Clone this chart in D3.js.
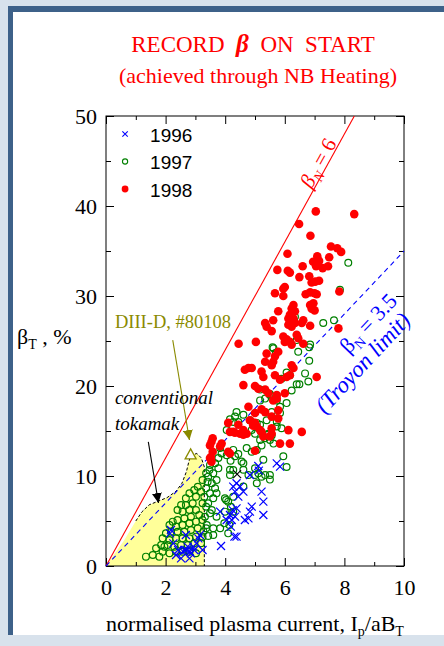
<!DOCTYPE html>
<html>
<head>
<meta charset="utf-8">
<script src="https://cdn.jsdelivr.net/npm/d3@7"></script>
<style>
    body { margin: 0; background: #d8e2ec; }
    svg { display: block; }
</style>
</head>
<body>
<svg id="chart" width="444" height="646"></svg>
<script>
// legend categories and ticks
const years = ["1996", "1997", "1998"];
const xTicks = [0, 2, 4, 6, 8, 10];
const xMinor = [1, 3, 5, 7, 9];
const yTicks = [0, 10, 20, 30, 40, 50];
const yMinor = [5, 15, 25, 35, 45];

// beta_N limit lines
const betaN = [6, 3.5];

// [I_p/aB_T, beta_T %]
const data1996 = [
    [2.18, 4.0], [2.15, 3.63], [2.26, 2.52], [2.42, 1.78], [2.59, 1.59], [2.70, 1.78], [2.82, 1.59],
    [2.93, 2.15], [3.04, 2.52], [3.10, 3.07], [3.15, 3.44], [2.68, 3.44], [2.74, 2.15], [2.63, 1.78],
    [2.85, 1.41], [2.35, 1.22], [2.52, 0.85], [2.80, 0.85], [2.96, 1.78], [3.24, 1.78], [3.86, 2.22],
    [4.38, 3.26], [4.19, 4.37], [4.31, 3.26], [4.05, 5.11], [4.22, 5.11], [4.33, 5.48], [4.16, 5.67],
    [4.66, 5.11], [4.78, 5.3], [4.83, 6.04], [4.89, 6.59], [5.28, 5.67], [5.28, 7.15], [5.22, 8.26],
    [4.38, 6.41], [3.83, 6.04], [4.25, 6.2], [4.27, 8.82], [4.5, 8.82], [4.33, 8.26], [4.61, 8.26],
    [4.44, 7.70], [4.38, 9.19], [4.83, 10.11], [5.11, 11.11], [5.73, 11.41], [5.84, 11.04], [5.13, 10.6]
];
const data1997 = [
    [3.24, 9.56], [3.08, 8.81], [3.19, 8.26], [2.96, 8.44], [2.80, 8.07], [3.02, 7.70], [2.68, 7.52],
    [3.24, 6.96], [2.91, 6.96], [2.68, 6.78], [2.52, 6.78], [2.40, 6.22], [2.57, 6.04], [2.80, 6.22],
    [3.02, 6.22], [3.13, 5.67], [2.85, 5.48], [2.63, 5.30], [2.40, 5.11], [2.24, 4.93], [2.13, 4.56],
    [2.35, 4.37], [2.57, 4.56], [2.80, 4.74], [3.02, 4.93], [3.24, 5.11], [3.08, 4.19], [2.85, 4.0],
    [2.63, 3.81], [2.40, 3.81], [2.18, 3.81], [2.01, 3.63], [1.90, 3.07], [2.13, 2.89], [2.35, 3.07],
    [2.57, 3.07], [2.80, 3.07], [3.02, 3.26], [3.24, 3.26], [3.19, 2.52], [2.96, 2.52], [2.74, 2.33],
    [2.52, 2.33], [2.29, 2.15], [2.07, 2.33], [1.85, 2.33], [1.68, 1.96], [1.90, 1.59], [2.13, 1.41],
    [2.35, 1.59], [2.57, 1.59], [2.80, 1.59], [3.02, 1.41], [1.79, 1.04], [1.57, 1.22], [1.34, 1.04],
    [1.96, 2.15], [3.30, 7.70], [3.36, 8.63], [3.36, 6.59], [3.36, 4.19], [3.36, 10.3], [3.47, 10.67],
    [3.41, 9.37],
    [3.49, 11.22], [3.66, 11.41], [3.77, 10.85], [3.60, 10.30], [3.43, 9.93], [3.71, 9.56], [3.55, 9.19],
    [3.66, 8.63], [3.49, 8.07], [3.71, 8.07], [3.60, 7.52], [3.43, 6.96], [3.55, 6.22], [3.32, 5.48],
    [3.49, 5.85], [3.71, 5.48], [3.38, 4.56], [3.60, 4.19], [3.27, 3.82], [3.43, 3.33], [3.60, 3.45],
    [3.99, 7.52], [4.27, 7.70], [4.1, 7.15], [4.27, 6.04], [3.99, 6.04], [3.83, 4.19], [4.1, 3.63],
    [4.61, 8.82], [4.27, 10.67], [4.16, 10.11], [4.18, 11.7], [4.44, 12.45], [4.61, 11.41], [5.0, 10.85],
    [5.0, 10.11], [5.22, 9.93], [5.06, 9.19], [5.5, 10.11], [4.03, 7.33], [4.19, 6.59], [3.97, 4.74],
    [4.14, 4.56],
    [3.83, 13.1], [3.88, 12.5], [3.77, 12.0], [4.05, 12.3], [4.27, 12.9], [4.33, 12.2], [4.72, 13.1],
    [4.89, 12.7], [5.06, 12.9], [5.22, 13.4], [5.33, 14.2], [5.5, 14.0], [5.62, 13.6], [5.45, 14.6],
    [5.17, 14.0], [5.17, 15.7], [4.55, 11.6], [4.61, 10.7], [4.78, 10.1], [5.11, 10.3], [5.34, 10.1],
    [5.5, 9.6], [6.06, 11.0], [5.95, 12.2], [5.28, 11.8], [4.16, 10.7], [4.33, 16.6], [4.61, 16.8],
    [4.44, 16.0], [5.73, 16.0], [5.84, 17.0], [6.06, 18.1], [5.5, 19.0], [5.17, 18.4],
    [5.62, 24.2], [6.45, 23.8], [6.85, 24.6], [6.06, 21.5], [6.17, 21.2], [5.89, 20.8], [6.68, 21.4],
    [6.40, 20.2], [6.79, 20.5], [6.23, 19.5], [5.17, 19.6], [5.50, 19.1], [5.34, 18.6], [5.73, 18.4],
    [5.84, 17.7], [5.56, 17.1], [4.38, 17.1], [4.16, 16.3], [4.27, 16.0], [4.83, 16.2], [5.06, 15.9],
    [5.39, 16.2], [5.73, 15.5], [5.89, 15.3], [5.56, 14.5], [5.45, 14.7], [5.0, 14.7], [4.05, 15.1],
    [4.89, 15.1],
    [6.34, 27.7], [7.29, 27.0], [7.65, 27.3], [6.4, 25.1], [6.82, 24.3], [5.59, 24.3], [5.70, 23.7],
    [6.82, 22.8], [7.85, 30.7], [8.13, 33.7], [6.49, 20.2]
];
const data1998 = [
    [7.04, 39.4], [8.33, 39.1], [6.48, 38.0], [6.86, 36.7], [7.55, 35.5], [7.76, 35.3], [7.89, 34.9],
    [6.09, 34.7], [7.09, 34.4], [7.49, 34.3], [6.95, 33.8], [7.15, 33.9], [7.05, 33.3], [7.27, 33.1],
    [7.45, 33.3], [6.6, 33.3], [5.75, 32.9], [6.1, 32.8], [6.17, 32.6], [6.49, 32.1], [6.82, 32.2],
    [6.9, 31.5], [7.02, 31.6], [7.15, 31.7], [6.0, 31.0], [5.95, 30.8], [5.67, 30.3], [5.95, 30.0],
    [6.7, 30.2], [6.85, 30.4], [7.0, 30.3], [7.07, 30.2], [7.83, 30.5], [6.29, 29.0], [6.23, 28.6],
    [6.85, 29.0], [6.9, 28.6], [6.96, 29.2], [5.78, 28.3], [6.34, 28.3], [7.0, 28.4], [6.17, 27.9],
    [6.12, 27.5], [6.29, 27.5], [6.62, 27.3], [6.57, 27.0], [5.61, 27.3], [5.34, 27.0], [5.39, 26.6],
    [6.12, 26.8], [6.23, 26.6], [6.34, 27.0], [6.85, 26.7], [7.8, 26.4], [5.56, 26.1], [5.95, 25.5],
    [6.06, 25.2], [6.17, 24.9], [6.0, 24.9], [6.4, 25.7], [6.45, 25.3], [6.62, 24.7], [5.03, 24.9],
    [6.23, 24.6], [4.45, 24.7], [5.78, 23.8], [5.67, 23.3], [5.39, 23.6], [5.34, 22.7], [5.61, 22.7],
    [5.56, 22.3], [6.23, 22.3], [6.29, 22.0], [4.78, 22.0], [4.66, 21.8], [5.22, 21.6], [5.28, 21.0],
    [5.67, 21.2], [6.06, 21.0], [6.17, 21.2], [7.07, 21.0], [4.89, 22.0], [4.61, 20.1], [5.0, 20.0],
    [5.11, 19.7], [5.84, 20.7], [5.34, 19.6], [5.45, 19.2], [5.73, 19.0], [6.0, 19.2], [5.61, 18.4],
    [5.73, 18.6], [4.78, 17.7], [5.22, 17.4], [5.34, 17.1], [5.78, 17.3], [5.0, 17.0], [5.56, 16.6],
    [5.78, 16.4], [4.83, 16.2], [5.0, 15.9], [4.94, 15.6], [4.1, 15.9], [4.44, 15.7], [4.61, 15.1],
    [4.5, 14.7], [4.27, 14.9], [4.16, 14.9], [4.33, 14.8], [4.61, 14.6], [4.72, 14.7], [4.94, 15.9],
    [5.06, 15.5], [5.17, 15.1], [5.22, 14.9], [5.28, 14.4], [5.5, 14.4], [5.56, 15.3], [5.56, 14.7],
    [6.12, 15.1], [6.57, 14.9], [5.84, 13.6], [6.17, 13.6], [5.0, 12.8], [4.1, 12.7], [4.16, 12.5],
    [3.58, 14.2], [3.54, 13.8], [3.49, 13.4], [3.88, 13.6], [3.83, 13.3], [3.49, 12.0], [3.54, 11.6],
    [3.58, 12.7], [3.52, 12.1]
];
const dataOther = [[4.40, 10.2]];

// conventional tokamak operating region
const tokamakRegion = [
    [0, 0], [0.6, 2.8], [1.0, 5.0], [1.2, 6.0], [1.45, 6.8], [1.75, 7.2], [2.05, 7.6], [2.35, 8.3],
    [2.55, 9.2], [2.7, 10.5], [2.78, 11.6], [2.85, 12.3], [3.05, 12.5], [3.2, 12.0], [3.3, 11.0], [3.3, 0]
];
// DIII-D shot #80108
const diiid = [[2.84, 12.35]];

const svg = d3.select("#chart");

// slide panel
svg.append("rect").attr("x", 8).attr("y", 6).attr("width", 440).attr("height", 629).attr("fill", "#fff");
svg.append("rect").attr("x", 8).attr("y", 6).attr("width", 440).attr("height", 6).attr("fill", "#3d6189");
svg.append("rect").attr("x", 8).attr("y", 6).attr("width", 5).attr("height", 629).attr("fill", "#3d6189");

const x = d3.scaleLinear().domain([0, 10]).range([106, 404]);
const y = d3.scaleLinear().domain([0, 50]).range([566, 116]);

const serif = "'Liberation Serif', 'Times New Roman', serif";

// title
const title = svg.append("text")
    .attr("x", 253).attr("y", 52)
    .attr("text-anchor", "middle")
    .attr("font-family", serif).attr("font-size", 23).attr("fill", "#ff0000");
title.append("tspan").text("RECORD\u00A0\u00A0");
title.append("tspan").attr("font-weight", "bold").attr("font-style", "italic").attr("font-size", 25).text("\u03B2");
title.append("tspan").text("\u00A0\u00A0ON\u00A0\u00A0START");
svg.append("text")
    .attr("x", 258).attr("y", 83)
    .attr("text-anchor", "middle")
    .attr("font-family", serif).attr("font-size", 22).attr("fill", "#ff0000")
    .text("(achieved through NB Heating)");

// shaded region
const line = d3.line().x(d => x(d[0])).y(d => y(d[1]));
svg.append("path")
    .attr("d", line(tokamakRegion) + "Z")
    .attr("fill", "#ffff99");
svg.append("path")
    .attr("d", line(tokamakRegion.slice(2)))
    .attr("fill", "none")
    .attr("stroke", "#000")
    .attr("stroke-width", 1)
    .attr("stroke-dasharray", "3,2");

// axes
function styleAxis(g) {
    g.select(".domain").remove();
    g.selectAll("line").attr("stroke", "#000");
    g.selectAll("text").attr("font-family", serif).attr("font-size", 22).attr("fill", "#000");
}
svg.append("g").attr("transform", `translate(0,${y(0)})`)
    .call(d3.axisBottom(x).tickValues(xTicks).tickSize(-8).tickPadding(13).tickFormat(d3.format("d")))
    .call(styleAxis);
svg.append("g").attr("transform", `translate(0,${y(0)})`)
    .call(d3.axisBottom(x).tickValues(xMinor).tickSize(-4).tickFormat(""))
    .call(styleAxis);
svg.append("g").attr("transform", `translate(0,${y(50)})`)
    .call(d3.axisTop(x).tickValues(xTicks).tickSize(-8).tickFormat(""))
    .call(styleAxis);
svg.append("g").attr("transform", `translate(0,${y(50)})`)
    .call(d3.axisTop(x).tickValues(xMinor).tickSize(-4).tickFormat(""))
    .call(styleAxis);
svg.append("g").attr("transform", `translate(${x(0)},0)`)
    .call(d3.axisLeft(y).tickValues(yTicks).tickSize(-8).tickPadding(9).tickFormat(d3.format("d")))
    .call(styleAxis);
svg.append("g").attr("transform", `translate(${x(0)},0)`)
    .call(d3.axisLeft(y).tickValues(yMinor).tickSize(-5).tickFormat(""))
    .call(styleAxis);
svg.append("g").attr("transform", `translate(${x(10)},0)`)
    .call(d3.axisRight(y).tickValues(yTicks).tickSize(-8).tickFormat(""))
    .call(styleAxis);
svg.append("g").attr("transform", `translate(${x(10)},0)`)
    .call(d3.axisRight(y).tickValues(yMinor).tickSize(-5).tickFormat(""))
    .call(styleAxis);

svg.append("rect")
    .attr("x", x(0)).attr("y", y(50))
    .attr("width", x(10) - x(0)).attr("height", y(0) - y(50))
    .attr("fill", "none").attr("stroke", "#000").attr("stroke-width", 1);

// beta_N lines
svg.selectAll(".limit")
    .data(betaN)
    .enter().append("line")
    .attr("class", "limit")
    .attr("x1", x(0)).attr("y1", y(0))
    .attr("x2", d => x(Math.min(10, 50 / d)))
    .attr("y2", d => y(Math.min(10, 50 / d) * d))
    .attr("stroke", (d, i) => i === 0 ? "#ff0000" : "#0000ff")
    .attr("stroke-width", 1.1)
    .attr("stroke-dasharray", (d, i) => i === 0 ? null : "5,4");

// data
svg.selectAll(".p1997")
    .data(data1997)
    .enter().append("circle")
    .attr("class", "p1997")
    .attr("cx", d => x(d[0])).attr("cy", d => y(d[1]))
    .attr("r", 3.4)
    .attr("fill", "none").attr("stroke", "#008000").attr("stroke-width", 1.2);

svg.selectAll(".p1998")
    .data(data1998)
    .enter().append("circle")
    .attr("class", "p1998")
    .attr("cx", d => x(d[0])).attr("cy", d => y(d[1]))
    .attr("r", 4.3)
    .attr("fill", "#ff0000");

const cross = (s) => `M${-s},${-s}L${s},${s}M${-s},${s}L${s},${-s}`;
svg.selectAll(".p1996")
    .data(data1996)
    .enter().append("path")
    .attr("class", "p1996")
    .attr("transform", d => `translate(${x(d[0])},${y(d[1])})`)
    .attr("d", cross(4))
    .attr("fill", "none").attr("stroke", "#0000ff").attr("stroke-width", 1.2);
svg.selectAll(".pother")
    .data(dataOther)
    .enter().append("path")
    .attr("class", "pother")
    .attr("transform", d => `translate(${x(d[0])},${y(d[1])})`)
    .attr("d", cross(4))
    .attr("fill", "none").attr("stroke", "#000").attr("stroke-width", 1.1);

// DIII-D point
svg.selectAll(".diiid")
    .data(diiid)
    .enter().append("path")
    .attr("class", "diiid")
    .attr("transform", d => `translate(${x(d[0])},${y(d[1])})`)
    .attr("d", "M0,-6L5.5,4L-5.5,4Z")
    .attr("fill", "#fff").attr("stroke", "#8a8a00").attr("stroke-width", 1.3);

// arrows
const defs = svg.append("defs");
[["arrowOlive", "#8a8a00"], ["arrowBlack", "#000"]].forEach(([id, c]) => {
    defs.append("marker")
        .attr("id", id)
        .attr("viewBox", "0 0 10 10")
        .attr("refX", 10).attr("refY", 5)
        .attr("markerWidth", 10).attr("markerHeight", 10)
        .attr("markerUnits", "userSpaceOnUse")
        .attr("orient", "auto")
        .append("path").attr("d", "M0,0L10,5L0,10Z").attr("fill", c);
});
svg.append("line")
    .attr("x1", x(2.24)).attr("y1", y(25.1))
    .attr("x2", x(2.8)).attr("y2", y(14.0))
    .attr("stroke", "#8a8a00").attr("stroke-width", 1.1)
    .attr("marker-end", "url(#arrowOlive)");
svg.append("line")
    .attr("x1", x(1.42)).attr("y1", y(13.8))
    .attr("x2", x(1.76)).attr("y2", y(7.0))
    .attr("stroke", "#000").attr("stroke-width", 1.1)
    .attr("marker-end", "url(#arrowBlack)");

// annotations
svg.append("text")
    .attr("x", x(0.3)).attr("y", y(26.4))
    .attr("font-family", serif).attr("font-size", 18.5).attr("fill", "#8a8a00")
    .text("DIII-D, #80108");
svg.append("text")
    .attr("x", x(0.3)).attr("y", y(18.0))
    .attr("font-family", serif).attr("font-size", 19).attr("font-style", "italic")
    .text("conventional");
svg.append("text")
    .attr("x", x(0.3)).attr("y", y(15.1))
    .attr("font-family", serif).attr("font-size", 19).attr("font-style", "italic")
    .text("tokamak");

const redLabel = svg.append("text")
    .attr("transform", `translate(${x(7.11)},${y(44.8)}) rotate(-61)`)
    .attr("text-anchor", "middle").attr("dy", "0.35em")
    .attr("font-family", serif).attr("font-size", 21).attr("fill", "#ff0000");
redLabel.append("tspan").attr("font-style", "italic").text("\u03B2");
redLabel.append("tspan").attr("font-size", 14).attr("font-style", "italic").attr("dy", 5).text("N");
redLabel.append("tspan").attr("dy", -5).text(" = 6");

const blueLabel = svg.append("text")
    .attr("transform", `translate(${x(8.79)},${y(27.0)}) rotate(-46.6)`)
    .attr("text-anchor", "middle").attr("dy", "0.35em")
    .attr("font-family", serif).attr("font-size", 22).attr("fill", "#0000ff");
blueLabel.append("tspan").text("\u03B2");
blueLabel.append("tspan").attr("font-size", 14).attr("dy", 5).text("N");
blueLabel.append("tspan").attr("dy", -5).text(" = 3.5");
svg.append("text")
    .attr("transform", `translate(${x(8.6)},${y(22.6)}) rotate(-47)`)
    .attr("text-anchor", "middle").attr("dy", "0.35em")
    .attr("font-family", serif).attr("font-size", 23).attr("font-style", "italic").attr("fill", "#0000ff")
    .text("(Troyon limit)");

// legend
const legend = svg.append("g").attr("font-family", "'Liberation Sans', Arial, sans-serif").attr("font-size", 19);
years.forEach((yr, i) => {
    const cy = y(48) + i * 27.5;
    const g = legend.append("g").attr("transform", `translate(${x(0.64)},${cy})`);
    if (i === 0) {
        g.append("path").attr("d", cross(2.7)).attr("stroke", "#0000ff").attr("stroke-width", 1.1).attr("fill", "none");
    } else if (i === 1) {
        g.append("circle").attr("r", 2.6).attr("fill", "none").attr("stroke", "#008000").attr("stroke-width", 1.1);
    } else {
        g.append("circle").attr("r", 3.4).attr("fill", "#ff0000");
    }
    g.append("text").attr("x", 25).attr("y", 7.5).attr("fill", "#000").text(yr);
});

// axis titles
const xt = svg.append("text")
    .attr("x", 255).attr("y", 631)
    .attr("text-anchor", "middle")
    .attr("font-family", serif).attr("font-size", 22).attr("fill", "#000");
xt.append("tspan").text("normalised plasma current, I");
xt.append("tspan").attr("font-size", 14).attr("dy", 5).text("p");
xt.append("tspan").attr("dy", -5).text("/aB");
xt.append("tspan").attr("font-size", 14).attr("dy", 5).text("T");

const yt = svg.append("text")
    .attr("x", 17).attr("y", 344)
    .attr("font-family", serif).attr("font-size", 22).attr("fill", "#000");
yt.append("tspan").text("\u03B2");
yt.append("tspan").attr("font-size", 14).attr("dy", 5).text("T");
yt.append("tspan").attr("dy", -5).text(" , %");
</script>
</body>
</html>
